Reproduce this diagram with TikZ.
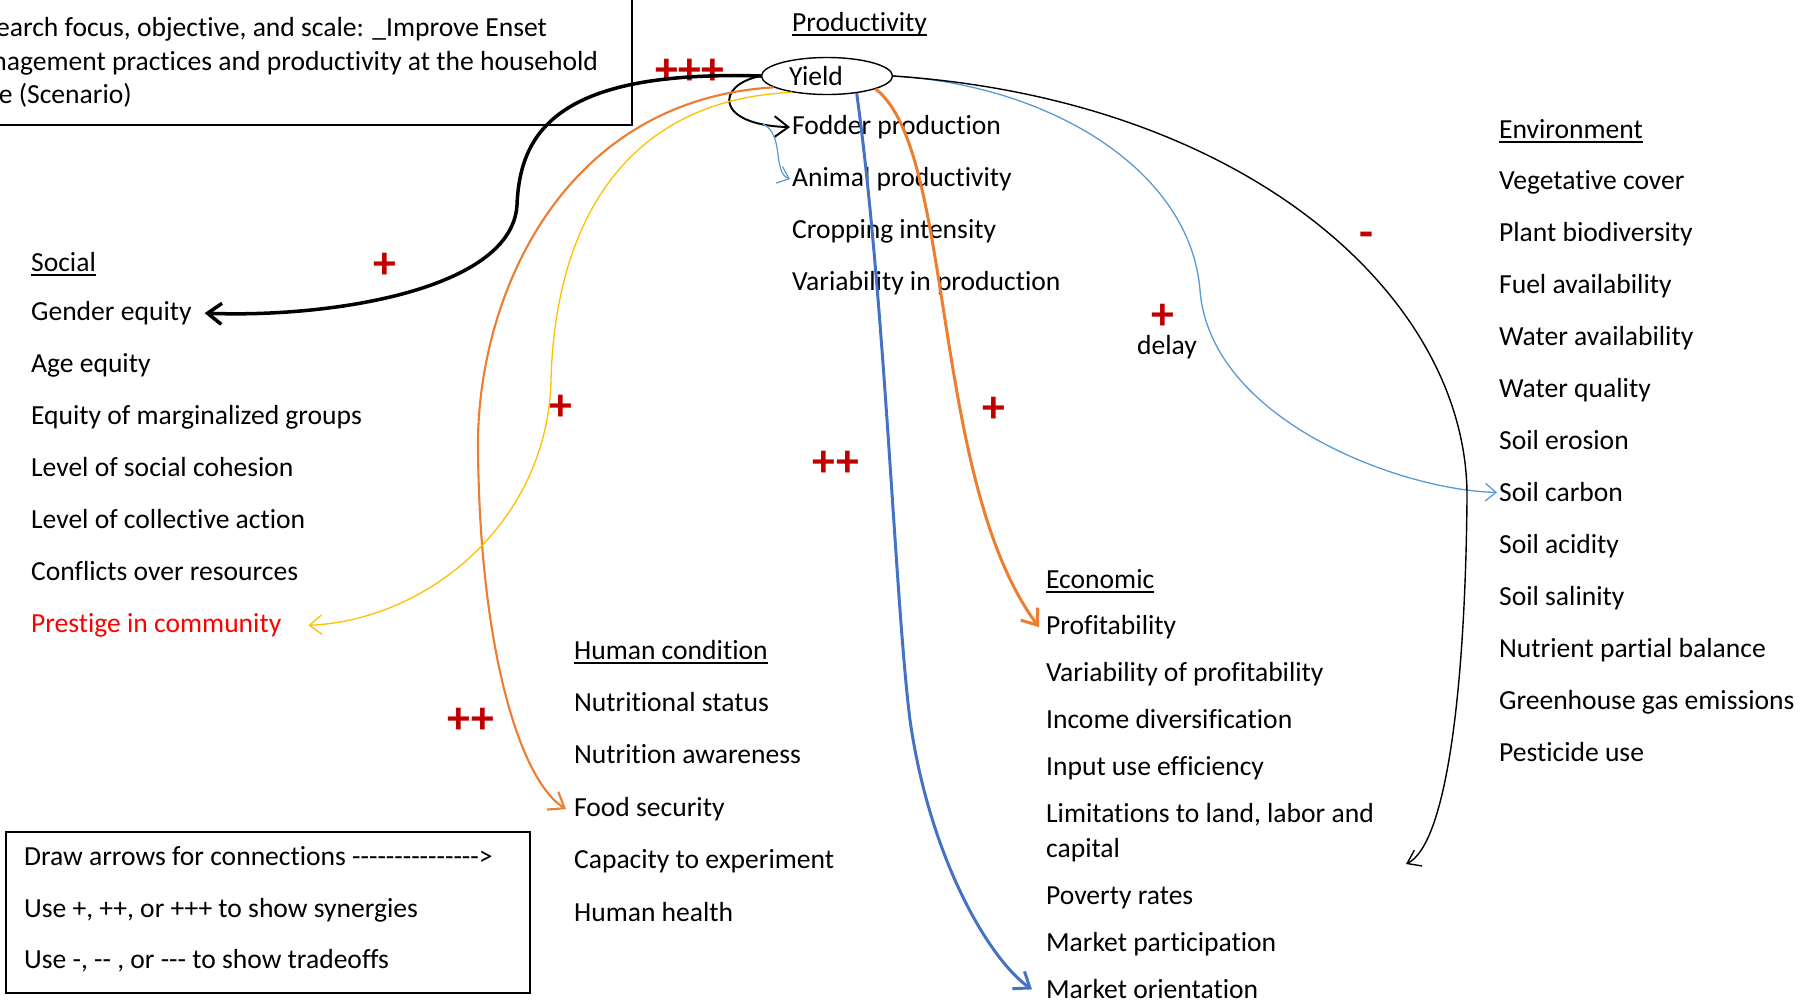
\documentclass[tikz,border=0pt]{standalone}
\usepackage{fontspec}
\setmainfont{Carlito}[Ligatures={TeXOff,CommonOff}]
\usepackage{tikz}
\usetikzlibrary{positioning, arrows.meta, shapes.geometric}
\usepackage{xcolor}
\definecolor{wordorange}{HTML}{ED7D31}
\definecolor{wordgold}{HTML}{FFC000}
\definecolor{wordblue}{HTML}{4472C4}
\definecolor{wordlightblue}{HTML}{5B9BD5}
\definecolor{signred}{HTML}{C00000}
\newcommand{\hdline}[1]{\setbox0\hbox{#1}\rlap{\rule[-2.6pt]{\wd0}{0.9pt}}\box0}

\begin{document}
\begin{tikzpicture}[x=0.02cm, y=-0.02cm,
    font=\fontsize{15.7}{19.8}\selectfont,
    >={Straight Barb[length=8pt,width=12pt]},
    item/.style={inner sep=1pt, anchor=base west},
    sign/.style={text=signred, inner sep=0pt,
        font=\fontsize{26}{30}\selectfont\bfseries}]
    \path[use as bounding box] (0,0) rectangle (1800,1002);
    \clip (0,0) rectangle (1800,1002);

    % scenario box, cut at the top left
    \node[draw, line width=1.1pt,
        minimum width=14.6cm, minimum height=3.2cm,
        anchor=south east, inner sep=0pt] (scen) at (633,126) {};
    \node[item] (scen1) at (-45,36) {Research focus, objective, and scale: \_Improve Enset};
    \node[below=0.70cm of scen1.base west, item] (scen2) {management practices and productivity at the household};
    \node[below=0.66cm of scen2.base west, item] (scen3) {scale (Scenario)};

    % Productivity
    \node[item] (prod) at (790,31) {\hdline{Productivity}};
    \node[draw, ellipse, line width=0.8pt,
        minimum width=2.62cm, minimum height=0.74cm,
        inner sep=0pt] (yield) at (827,76) {Yield\kern0.44cm};
    \node[below=2.07cm of prod.base west, item] (fod) {Fodder production};
    \node[below=1.04cm of fod.base west, item] (ani) {Animal productivity};
    \node[below=1.04cm of ani.base west, item] (crop) {Cropping intensity};
    \node[below=1.04cm of crop.base west, item] (varp) {Variability in production};

    % Social
    \node[item] (soc) at (29,271) {\hdline{Social}};
    \node[below=0.99cm of soc.base west, item] (gen) {Gender equity};
    \node[below=1.04cm of gen.base west, item] (age) {Age equity};
    \node[below=1.04cm of age.base west, item] (marg) {Equity of marginalized groups};
    \node[below=1.04cm of marg.base west, item] (coh) {Level of social cohesion};
    \node[below=1.04cm of coh.base west, item] (coll) {Level of collective action};
    \node[below=1.04cm of coll.base west, item] (confl) {Conflicts over resources};
    \node[below=1.04cm of confl.base west, item, text=red] (prest) {Prestige in community};

    % Human condition
    \node[item] (hum) at (572,659) {\hdline{Human condition}};
    \node[below=1.05cm of hum.base west, item] (nut) {Nutritional status};
    \node[below=1.05cm of nut.base west, item] (aware) {Nutrition awareness};
    \node[below=1.05cm of aware.base west, item] (food) {Food security};
    \node[below=1.05cm of food.base west, item] (capx) {Capacity to experiment};
    \node[below=1.05cm of capx.base west, item] (health) {Human health};

    % Economic
    \node[item] (eco) at (1044,588) {\hdline{Economic}};
    \node[below=0.93cm of eco.base west, item] (prof) {Profitability};
    \node[below=0.94cm of prof.base west, item] (varprof) {Variability of profitability};
    \node[below=0.94cm of varprof.base west, item] (inc) {Income diversification};
    \node[below=0.94cm of inc.base west, item] (eff) {Input use efficiency};
    \node[below=1.64cm of eff.base west, item, align=left] (lim) {Limitations to land, labor and\\capital};
    \node[below=0.95cm of lim.base west, item] (pov) {Poverty rates};
    \node[below=0.94cm of pov.base west, item] (mpart) {Market participation};
    \node[below=0.94cm of mpart.base west, item] (mor) {Market orientation};

    % Environment
    \node[item] (env) at (1497,138) {\hdline{Environment}};
    \node[below=1.04cm of env.base west, item] (veg) {Vegetative cover};
    \node[below=1.04cm of veg.base west, item] (bio) {Plant biodiversity};
    \node[below=1.04cm of bio.base west, item] (fuel) {Fuel availability};
    \node[below=1.04cm of fuel.base west, item] (wav) {Water availability};
    \node[below=1.04cm of wav.base west, item] (wq) {Water quality};
    \node[below=1.04cm of wq.base west, item] (eros) {Soil erosion};
    \node[below=1.04cm of eros.base west, item] (soilc) {Soil carbon};
    \node[below=1.04cm of soilc.base west, item] (acid) {Soil acidity};
    \node[below=1.04cm of acid.base west, item] (sal) {Soil salinity};
    \node[below=1.04cm of sal.base west, item] (npb) {Nutrient partial balance};
    \node[below=1.04cm of npb.base west, item] (ghg) {Greenhouse gas emissions};
    \node[below=1.04cm of ghg.base west, item] (pest) {Pesticide use};

    % legend
    \node[draw, line width=1.1pt,
        minimum width=10.48cm, minimum height=3.22cm,
        anchor=north west, inner sep=0pt] (legend) at (5,831) {};
    \node[below right=0.69cm and 0.34cm of legend.north west, item] (leg1) {Draw arrows for connections --------------->};
    \node[below=1.04cm of leg1.base west, item] (leg2) {Use +, ++, or +++ to show synergies};
    \node[below=1.02cm of leg2.base west, item] (leg3) {Use -, -- , or --- to show tradeoffs};

    % signs
    \node[sign] (s1) at (690,72) {+++};
    \node[sign] (s2) at (385,266) {+};
    \node[sign] (s3) at (561,408) {+};
    \node[sign] (s4) at (471,721) {++};
    \node[sign] (s5) at (836,464) {++};
    \node[sign] (s6) at (994,410) {+};
    \node[sign] (s7) at (1163,317) {+};
    \node (delay) at (1167,347) {delay};
    \node[sign] (s8) at (1366,240) {-};

    \coordinate (fodTail) at (763,124);
    \coordinate (limEnd) at ([xshift=0.6cm]lim.south east);

    % connections
    \draw[line width=2pt, ->]
        (yield.west) .. controls (560,70) and (520,130) .. (517,205)
        .. controls (512,290) and (330,318) .. ([xshift=0.22cm]gen.east);
    \draw[line width=1.1pt, ->]
        (yield.west) .. controls (715,85) and (715,125) .. (fod.west);
    \draw[wordlightblue, line width=0.7pt, -{Straight Barb[length=6pt,width=10pt]}]
        (fodTail) .. controls (785,135) and (772,172) .. (ani.west);
    \draw[wordorange, line width=1.2pt, ->]
        (yield.192) .. controls (560,100) and (476,300) .. (478,450)
        .. controls (480,650) and (520,780) .. ([xshift=-0.12cm]food.west);
    \draw[wordgold, line width=0.75pt, -{Straight Barb[length=7pt,width=11pt]}]
        (yield.205) .. controls (620,100) and (555,230) .. (551,380)
        .. controls (548,520) and (430,620) .. ([xshift=0.5cm]prest.east);
    \draw[wordblue, line width=1.7pt, ->]
        (yield.330) .. controls (885,300) and (895,600) .. (910,720)
        .. controls (930,860) and (990,960) .. ([xshift=-0.24cm]mor.west);
    \draw[wordorange, line width=1.7pt, ->]
        (yield.345) .. controls (955,150) and (930,480) .. ([xshift=-0.1cm]prof.west);
    \draw[wordlightblue, line width=0.75pt, -{Straight Barb[length=6pt,width=10pt]}]
        (yield.east) .. controls (1050,85) and (1190,170) .. (1200,290)
        .. controls (1210,420) and (1400,490) .. (soilc.west);
    \draw[line width=0.8pt, -{Straight Barb[length=7pt,width=10pt]}]
        (yield.east) .. controls (1250,100) and (1470,300) .. (1467,500)
        .. controls (1465,700) and (1445,845) .. (limEnd);
\end{tikzpicture}
\end{document}
